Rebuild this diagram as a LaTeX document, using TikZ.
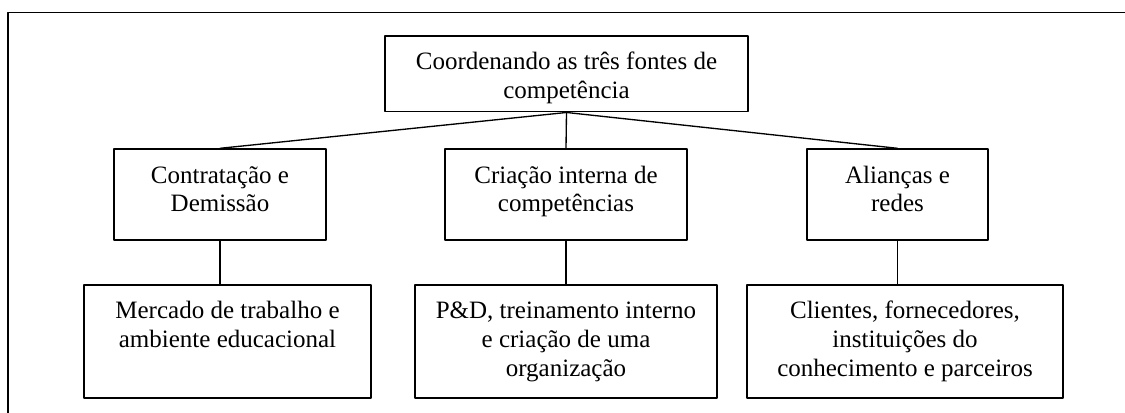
\documentclass[tikz,border=0pt]{standalone}
\usepackage{fontspec}
\setmainfont{Liberation Serif}
\usepackage{tikz}
\newcommand{\caixatxt}[3]{\parbox[c][#2][t]{#1}{\centering\rule{0pt}{25.5pt}#3}}

\begin{document}
\begin{tikzpicture}[line cap=round,line join=round,x=0.75pt,y=-0.75pt,
	caixa/.style={draw=black,line width=1.3pt,inner sep=0pt,anchor=north,font=\fontsize{18.75}{21.5}\selectfont},
	liga/.style={draw=black,line width=1pt}]
					\useasboundingbox (0,0) rectangle (1125,412);
					
					\draw[line width=1.2pt] (7.9,430) -- (7.9,12.5) -- (1140,12.5);
					
					\node[caixa] (topo) at (566.5,35) {\caixatxt{272.25pt}{56.8pt}{Coordenando as três fontes de\\competência}};
					
					\node[caixa] (contrat) at (220,148.3) {\caixatxt{159pt}{68pt}{Contratação e\\Demissão}};
					
					\node[caixa] (criacao) at (566,148.3) {\caixatxt{181.5pt}{68pt}{Criação interna de\\competências}};
					
					\node[caixa] (aliancas) at (897.5,148.3) {\caixatxt{135.75pt}{68pt}{Alianças e\\redes}};
					
					\node[caixa] (mercado) at (227.5,284) {\caixatxt{215.25pt}{84.75pt}{Mercado de trabalho e\\ambiente educacional}};
					
					\node[caixa] (pd) at (566,284) {\caixatxt{226.5pt}{84.75pt}{P\&D, treinamento interno\\e criação de uma\\organização}};
					
					\node[caixa] (clientes) at (905,284) {\caixatxt{237pt}{84.75pt}{Clientes, fornecedores,\\instituições do\\conhecimento e parceiros}};
					
					\draw[liga] (topo.south) -- (contrat.north);
					\draw[liga] (topo.south) -- (criacao.north);
					\draw[liga] (topo.south) -- (aliancas.north);
					
					\draw[liga] (contrat.south) -- (contrat.south |- mercado.north);
					\draw[liga] (criacao.south) -- (criacao.south |- pd.north);
					\draw[liga] (aliancas.south) -- (aliancas.south |- clientes.north);
				\end{tikzpicture}
\end{document}
